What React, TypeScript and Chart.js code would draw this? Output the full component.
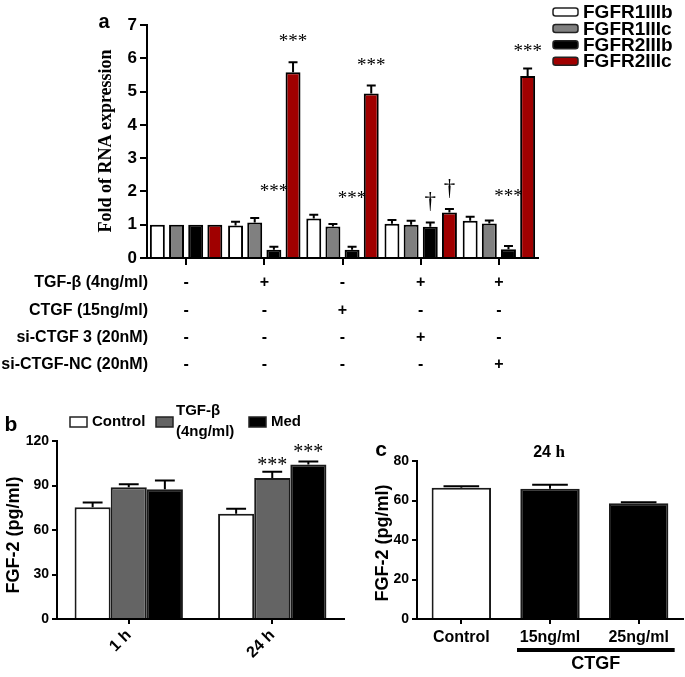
import React, { useEffect, useRef } from "react";
import { Chart, registerables } from "chart.js";

Chart.register(...registerables);

const SANS = '"Liberation Sans", Arial, Helvetica, sans-serif';
const SERIF = '"Liberation Serif", "Times New Roman", serif';

// ---------- Panel a ----------
const groupsA = ["Control", "TGF-β", "CTGF", "TGF-β + si-CTGF 3", "TGF-β + si-CTGF-NC"];
const seriesA = ["FGFR1IIIb", "FGFR1IIIc", "FGFR2IIIb", "FGFR2IIIc"];
const colorsA = ["#ffffff", "#808080", "#000000", "#a00000"];
const fgfr1IIIb = [1, 0.98, 1.19, 1.03, 1.12];
const fgfr1IIIc = [1, 1.07, 0.95, 1.0, 1.04];
const fgfr2IIIb = [1, 0.25, 0.25, 0.94, 0.26];
const fgfr2IIIc = [1, 5.58, 4.94, 1.37, 5.47];
const fgfr1IIIbErr = [0, 0.11, 0.11, 0.11, 0.12];
const fgfr1IIIcErr = [0, 0.13, 0.07, 0.12, 0.09];
const fgfr2IIIbErr = [0, 0.09, 0.09, 0.13, 0.1];
const fgfr2IIIcErr = [0, 0.3, 0.24, 0.1, 0.22];
const yTicksA = [0, 1, 2, 3, 4, 5, 6, 7];
const treatmentRows = ["TGF-β (4ng/ml)", "CTGF (15ng/ml)", "si-CTGF 3 (20nM)", "si-CTGF-NC (20nM)"];
const tgfSigns = ["-", "+", "-", "+", "+"];
const ctgfSigns = ["-", "-", "+", "-", "-"];
const siCtgfSigns = ["-", "-", "-", "+", "-"];
const siNcSigns = ["-", "-", "-", "-", "+"];
// significance marks: [series index, group index, text, y position in data units]
const marksA: [number, number, string, number][] = [
  [2, 1, "***", 2.16],
  [3, 1, "***", 6.64],
  [2, 2, "***", 1.95],
  [3, 2, "***", 5.92],
  [2, 3, "†", 1.7],
  [3, 3, "†", 2.1],
  [2, 4, "***", 2.01],
  [3, 4, "***", 6.34],
];

// ---------- Panel b ----------
const timesB = ["1 h", "24 h"];
const seriesB = ["Control", "TGF-β (4ng/ml)", "Med"];
const colorsB = ["#ffffff", "#646464", "#000000"];
const controlB = [75.4, 71.0];
const tgfB = [88.9, 95.1];
const medB = [87.5, 104.1];
const controlBErr = [3.2, 3.3];
const tgfBErr = [2.0, 4.1];
const medBErr = [5.8, 2.0];
const yTicksB = [0, 30, 60, 90, 120];
const marksB: [number, number, string, number][] = [
  [1, 1, "***", 107.2],
  [2, 1, "***", 116],
];

// ---------- Panel c ----------
const groupsC = ["Control", "15ng/ml", "25ng/ml"];
const colorsC = ["#ffffff", "#000000", "#000000"];
const valuesC = [66.5, 66.0, 58.6];
const errorsC = [0.7, 2.0, 0.5];
const yTicksC = [0, 20, 40, 60, 80];

// ---------- plugins ----------
const errorBars = (capFrac: number) => ({
  id: "errorBars",
  afterDatasetsDraw(chart: any) {
    const ctx = chart.ctx;
    const yScale = chart.scales.y;
    chart.data.datasets.forEach((ds: any, i: number) => {
      const errs = ds.errors;
      if (!errs) return;
      const meta = chart.getDatasetMeta(i);
      meta.data.forEach((bar: any, j: number) => {
        const e = errs[j];
        if (!e) return;
        const v = ds.data[j];
        const { x, y, width } = bar.getProps(["x", "y", "width"], true);
        const yTop = yScale.getPixelForValue(v + e);
        const cw = width * capFrac;
        ctx.save();
        ctx.strokeStyle = "#000";
        ctx.lineWidth = 2;
        ctx.beginPath();
        ctx.moveTo(x, y);
        ctx.lineTo(x, yTop);
        ctx.moveTo(x - cw / 2, yTop);
        ctx.lineTo(x + cw / 2, yTop);
        ctx.stroke();
        ctx.restore();
      });
    });
  },
});

const sigMarks = (marks: [number, number, string, number][], starSize: number, daggerSize: number) => ({
  id: "sigMarks",
  afterDatasetsDraw(chart: any) {
    const ctx = chart.ctx;
    const yScale = chart.scales.y;
    ctx.save();
    ctx.fillStyle = "#000";
    ctx.textAlign = "center";
    ctx.textBaseline = "alphabetic";
    marks.forEach(([s, g, text, yv]) => {
      const bar = chart.getDatasetMeta(s).data[g];
      const x = bar.x;
      const yc = yScale.getPixelForValue(yv);
      if (text === "†") {
        ctx.font = `${daggerSize}px ${SERIF}`;
        ctx.fillText(text, x, yc + daggerSize * 0.3);
      } else {
        ctx.font = `${starSize}px ${SERIF}`;
        ctx.fillText(text, x, yc + starSize * 0.55);
      }
    });
    ctx.restore();
  },
});

const drawRotated = (ctx: any, text: string, x: number, y: number, font: string) => {
  ctx.save();
  ctx.translate(x, y);
  ctx.rotate(-Math.PI / 2);
  ctx.font = font;
  ctx.fillStyle = "#000";
  ctx.textAlign = "center";
  ctx.textBaseline = "middle";
  ctx.fillText(text, 0, 0);
  ctx.restore();
};

const panelAExtras = {
  id: "panelAExtras",
  afterDraw(chart: any) {
    const ctx = chart.ctx;
    const area = chart.chartArea;
    const xs = chart.scales.x;
    ctx.save();
    ctx.fillStyle = "#000";
    // panel letter
    ctx.font = `bold 20px ${SANS}`;
    ctx.textAlign = "center";
    ctx.textBaseline = "middle";
    ctx.fillText("a", 104, 22);
    // y title
    drawRotated(ctx, "Fold of RNA expression", 106, 141, `bold 18px ${SERIF}`);
    // legend
    const legendX = area.right + 15;
    chart.data.datasets.forEach((ds: any, i: number) => {
      const yc = 12 + i * 16.4;
      ctx.beginPath();
      ctx.roundRect(legendX, yc - 4, 25, 8, 2.5);
      ctx.fillStyle = ds.backgroundColor;
      ctx.fill();
      ctx.lineWidth = 1.5;
      ctx.strokeStyle = "#222";
      ctx.stroke();
      ctx.fillStyle = "#000";
      ctx.font = `bold 19px ${SANS}`;
      ctx.textAlign = "left";
      ctx.textBaseline = "middle";
      ctx.fillText(ds.label, legendX + 30, yc + 1);
    });
    // treatment table
    const rows = [tgfSigns, ctgfSigns, siCtgfSigns, siNcSigns];
    ctx.font = `bold 16px ${SANS}`;
    ctx.textBaseline = "middle";
    rows.forEach((signs, r) => {
      const y = area.bottom + 25 + r * 27.3;
      ctx.textAlign = "right";
      ctx.fillText(treatmentRows[r], area.left + 1, y);
      ctx.textAlign = "center";
      signs.forEach((s, j) => {
        ctx.fillText(s, xs.getPixelForValue(j), y);
      });
    });
    ctx.restore();
  },
};

const panelBExtras = {
  id: "panelBExtras",
  afterDraw(chart: any) {
    const ctx = chart.ctx;
    ctx.save();
    ctx.fillStyle = "#000";
    ctx.font = `bold 21px ${SANS}`;
    ctx.textAlign = "center";
    ctx.textBaseline = "middle";
    ctx.fillText("b", 11, 45);
    drawRotated(ctx, "FGF-2 (pg/ml)", 14, 155, `bold 18px ${SANS}`);
    // legend
    const boxes = [70, 156, 249];
    const texts: string[][] = [["Control"], ["TGF-β", "(4ng/ml)"], ["Med"]];
    chart.data.datasets.forEach((ds: any, i: number) => {
      const bx = boxes[i];
      ctx.fillStyle = ds.backgroundColor;
      ctx.fillRect(bx, 37, 17, 10);
      ctx.lineWidth = 1.5;
      ctx.strokeStyle = "#222";
      ctx.strokeRect(bx, 37, 17, 10);
      ctx.fillStyle = "#000";
      ctx.font = `bold 15px ${SANS}`;
      ctx.textAlign = "left";
      ctx.textBaseline = "middle";
      const t = texts[i];
      if (t.length === 1) {
        ctx.fillText(t[0], bx + 22, 42);
      } else {
        ctx.fillText(t[0], bx + 20, 31);
        ctx.fillText(t[1], bx + 20, 52);
      }
    });
    ctx.restore();
  },
};

const panelCExtras = {
  id: "panelCExtras",
  afterDraw(chart: any) {
    const ctx = chart.ctx;
    const xs = chart.scales.x;
    ctx.save();
    ctx.fillStyle = "#000";
    ctx.font = `bold 21px ${SANS}`;
    ctx.textAlign = "center";
    ctx.textBaseline = "middle";
    ctx.fillText("c", 36, 70);
    drawRotated(ctx, "FGF-2 (pg/ml)", 38, 163, `bold 18px ${SANS}`);
    // title "24 h"
    ctx.textAlign = "left";
    ctx.font = `bold 16px ${SANS}`;
    const w1 = ctx.measureText("24 ").width;
    ctx.font = `bold 17px ${SERIF}`;
    const w2 = ctx.measureText("h").width;
    const tx = 204 - (w1 + w2) / 2;
    ctx.font = `bold 16px ${SANS}`;
    ctx.fillText("24 ", tx, 73);
    ctx.font = `bold 17px ${SERIF}`;
    ctx.fillText("h", tx + w1, 73);
    // CTGF bracket
    const x1 = xs.getPixelForValue(1) - 33;
    const x2 = xs.getPixelForValue(2) + 36;
    ctx.fillRect(x1, 268, x2 - x1, 4);
    ctx.textAlign = "center";
    ctx.font = `bold 18px ${SANS}`;
    ctx.fillText("CTGF", (x1 + x2) / 2, 284);
    ctx.restore();
  },
};

const axisFont = (size: number) => ({ family: SANS, size, weight: "bold" as const });

export default function App() {
  const refA = useRef<HTMLCanvasElement>(null);
  const refB = useRef<HTMLCanvasElement>(null);
  const refC = useRef<HTMLCanvasElement>(null);

  useEffect(() => {
    const valuesA = [fgfr1IIIb, fgfr1IIIc, fgfr2IIIb, fgfr2IIIc];
    const errorsA = [fgfr1IIIbErr, fgfr1IIIcErr, fgfr2IIIbErr, fgfr2IIIcErr];
    const chartA = new Chart(refA.current!, {
      type: "bar",
      data: {
        labels: groupsA,
        datasets: seriesA.map((name, i) => ({
          label: name,
          data: valuesA[i],
          errors: errorsA[i],
          backgroundColor: colorsA[i],
          borderColor: "#000",
          borderWidth: 2,
          categoryPercentage: 0.98,
          barPercentage: 0.78,
        })) as any,
      },
      options: {
        responsive: false,
        animation: false,
        devicePixelRatio: 1,
        layout: { padding: { left: 0, top: 25, right: 685 - 538, bottom: 0 } },
        plugins: { legend: { display: false }, tooltip: { enabled: false } },
        scales: {
          x: {
            grid: { drawOnChartArea: false, drawTicks: true, tickLength: 7, offset: false, color: "#000", lineWidth: 2 },
            border: { display: true, color: "#000", width: 2 },
            ticks: { display: false },
            afterFit: (s: any) => { s.height = 380 - 258; },
          },
          y: {
            min: 0,
            max: 7,
            afterBuildTicks: (s: any) => { s.ticks = yTicksA.map((v) => ({ value: v })); },
            ticks: { color: "#000", font: axisFont(17), padding: 3 },
            grid: { drawOnChartArea: false, tickLength: 7, color: "#000", lineWidth: 2 },
            border: { color: "#000", width: 2 },
            afterFit: (s: any) => { s.width = 147; },
          },
        },
      } as any,
      plugins: [errorBars(0.6), sigMarks(marksA, 19, 23), panelAExtras],
    });

    const valuesB = [controlB, tgfB, medB];
    const errorsB = [controlBErr, tgfBErr, medBErr];
    const chartB = new Chart(refB.current!, {
      type: "bar",
      data: {
        labels: timesB,
        datasets: seriesB.map((name, i) => ({
          label: name,
          data: valuesB[i],
          errors: errorsB[i],
          backgroundColor: colorsB[i],
          borderColor: "#1a1a1a",
          borderWidth: 2,
          categoryPercentage: 0.755,
          barPercentage: 1,
        })) as any,
      },
      options: {
        responsive: false,
        animation: false,
        devicePixelRatio: 1,
        layout: { padding: { left: 0, top: 61, right: 1, bottom: 0 } },
        plugins: { legend: { display: false }, tooltip: { enabled: false } },
        scales: {
          x: {
            grid: { drawOnChartArea: false, tickLength: 5, offset: false, color: "#000", lineWidth: 2 },
            border: { color: "#000", width: 2 },
            ticks: { color: "#000", font: axisFont(16), minRotation: 45, maxRotation: 45, padding: 2 },
            afterFit: (s: any) => { s.height = 297 - 239; },
          },
          y: {
            min: 0,
            max: 120,
            afterBuildTicks: (s: any) => { s.ticks = yTicksB.map((v) => ({ value: v })); },
            ticks: { color: "#000", font: axisFont(14), padding: 3 },
            grid: { drawOnChartArea: false, tickLength: 5, color: "#000", lineWidth: 2 },
            border: { color: "#000", width: 2 },
            afterFit: (s: any) => { s.width = 57; },
          },
        },
      } as any,
      plugins: [errorBars(0.55), sigMarks(marksB, 20, 22), panelBExtras],
    });

    const chartC = new Chart(refC.current!, {
      type: "bar",
      data: {
        labels: groupsC,
        datasets: [
          {
            label: "FGF-2",
            data: valuesC,
            errors: errorsC,
            backgroundColor: colorsC,
            borderColor: "#1a1a1a",
            borderWidth: 2,
            categoryPercentage: 1,
            barPercentage: 0.67,
          } as any,
        ],
      },
      options: {
        responsive: false,
        animation: false,
        devicePixelRatio: 1,
        layout: { padding: { left: 0, top: 81, right: 2, bottom: 0 } },
        plugins: { legend: { display: false }, tooltip: { enabled: false } },
        scales: {
          x: {
            grid: { drawOnChartArea: false, tickLength: 5, offset: false, color: "#000", lineWidth: 2 },
            border: { color: "#000", width: 2 },
            ticks: { color: "#000", font: axisFont(16), padding: 4, maxRotation: 0 },
            afterFit: (s: any) => { s.height = 297 - 239; },
          },
          y: {
            min: 0,
            max: 80,
            afterBuildTicks: (s: any) => { s.ticks = yTicksC.map((v) => ({ value: v })); },
            ticks: { color: "#000", font: axisFont(14), padding: 3 },
            grid: { drawOnChartArea: false, tickLength: 5, color: "#000", lineWidth: 2 },
            border: { color: "#000", width: 2 },
            afterFit: (s: any) => { s.width = 72; },
          },
        },
      } as any,
      plugins: [errorBars(0.6), panelCExtras],
    });

    return () => {
      chartA.destroy();
      chartB.destroy();
      chartC.destroy();
    };
  }, []);

  return (
    <div style={{ position: "absolute", left: 0, top: 0, width: 685, height: 677, background: "#fff" }}>
      <canvas ref={refA} width={685} height={380} style={{ position: "absolute", left: 0, top: 0, width: 685, height: 380 }} />
      <canvas ref={refB} width={345} height={297} style={{ position: "absolute", left: 0, top: 380, width: 345, height: 297 }} />
      <canvas ref={refC} width={340} height={297} style={{ position: "absolute", left: 345, top: 380, width: 340, height: 297 }} />
    </div>
  );
}
